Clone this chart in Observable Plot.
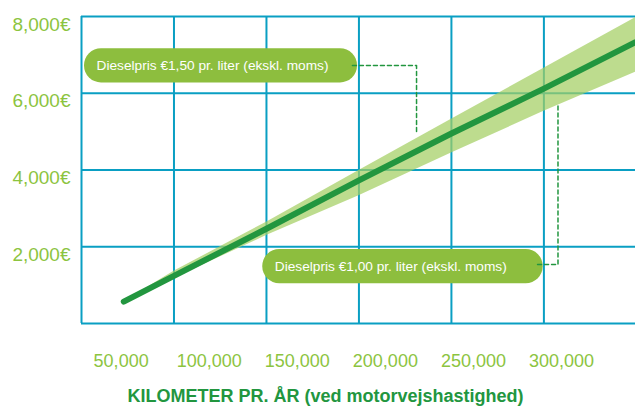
<!DOCTYPE html>
<html><head><meta charset="utf-8">
<script src="https://cdn.jsdelivr.net/npm/d3@7"></script>
<script src="https://cdn.jsdelivr.net/npm/@observablehq/plot@0.6"></script>
<style>body{margin:0;background:#fff} svg{display:block}</style>
</head><body><div id="chart"></div>
<script>
// Kilometres per year and yearly cost (€)
const km       = [51500, 80000, 132500, 185000, 237500, 290000, 342000];
const costMid  = [570, 1240, 2470, 3730, 4950, 6120, 7330];
const costLow  = [570, 1180, 2290, 3330, 4440, 5530, 6550];   // Dieselpris €1,00
const costHigh = [570, 1360, 2640, 3990, 5320, 6650, 7970];   // Dieselpris €1,50

const xTicks = [50000, 100000, 150000, 200000, 250000, 300000];
const yTicks = [2000, 4000, 6000, 8000];
const gridX  = [27500, 80000, 132500, 185000, 237500, 290000];
const gridY  = [0, 2000, 4000, 6000, 8000];
const title  = "KILOMETER PR. ÅR (ved motorvejshastighed)";

const noteLabels = ["Dieselpris €1,50 pr. liter (ekskl. moms)", "Dieselpris €1,00 pr. liter (ekskl. moms)"];
const noteX1 = [29200, 130400];
const noteX2 = [184200, 289600];
const noteY1 = [6270, 1035];
const noteY2 = [7160, 1928];
const leaderX = [[181300, 217700, 217700], [286400, 298000, 298000]];
const leaderY = [[6723, 6723, 4990], [1537, 1537, 5681]];

const rows = km.map((k, i) => ({km: k, mid: costMid[i], lo: costLow[i], hi: costHigh[i]}));
const notes = noteLabels.map((t, i) => ({label: t, x1: noteX1[i], x2: noteX2[i], y1: noteY1[i], y2: noteY2[i]}));
const leaders = leaderX.flatMap((xs, i) => xs.map((x, j) => ({id: i, x, y: leaderY[i][j]})));

const gridColor = "#0a9fc3";
const lightGreen = "#8cc43f";
const darkGreen = "#22963f";
const fmt = d3.format(",");

const chart = Plot.plot({
  width: 635, height: 412,
  marginLeft: 81, marginRight: 0, marginTop: 16, marginBottom: 89,
  x: {domain: [27500, 342000], axis: null},
  y: {domain: [0, 8000], axis: null},
  style: {fontFamily: "'Liberation Sans', Arial, Helvetica, sans-serif", background: "#fff"},
  marks: [
    Plot.ruleY(gridY, {stroke: gridColor, strokeWidth: 2}),
    Plot.ruleX(gridX, {stroke: gridColor, strokeWidth: 2}),
    Plot.areaY(rows, {x: "km", y1: "lo", y2: "hi", fill: "#a3cf62", fillOpacity: 0.72}),
    Plot.line(rows, {x: "km", y: "mid", stroke: darkGreen, strokeWidth: 6, strokeLinecap: "round"}),
    Plot.rect(notes, {x1: "x1", x2: "x2", y1: "y1", y2: "y2", fill: "#8dbe3e", rx: 17}),
    Plot.line(leaders, {x: "x", y: "y", z: "id", stroke: darkGreen, strokeWidth: 1.5, strokeDasharray: "4,3"}),
    Plot.text(notes, {x: "x1", y: d => (d.y1 + d.y2) / 2, text: "label", textAnchor: "start", dx: 12, fill: "white", fontSize: 13.7}),
    Plot.text(yTicks, {y: d => d, text: d => fmt(d) + "€", frameAnchor: "left", textAnchor: "end", dx: -11, dy: 8, fill: lightGreen, fontSize: 19}),
    Plot.text(xTicks, {x: d => d, text: d => fmt(d), frameAnchor: "bottom", dy: 43.5, fill: lightGreen, fontSize: 18}),
    Plot.text([title], {text: d => d, frameAnchor: "bottom", dx: -33, dy: 78.5, fill: darkGreen, fontSize: 18, fontWeight: "bold"})
  ]
});
document.getElementById("chart").appendChild(chart);
</script>
</body></html>
